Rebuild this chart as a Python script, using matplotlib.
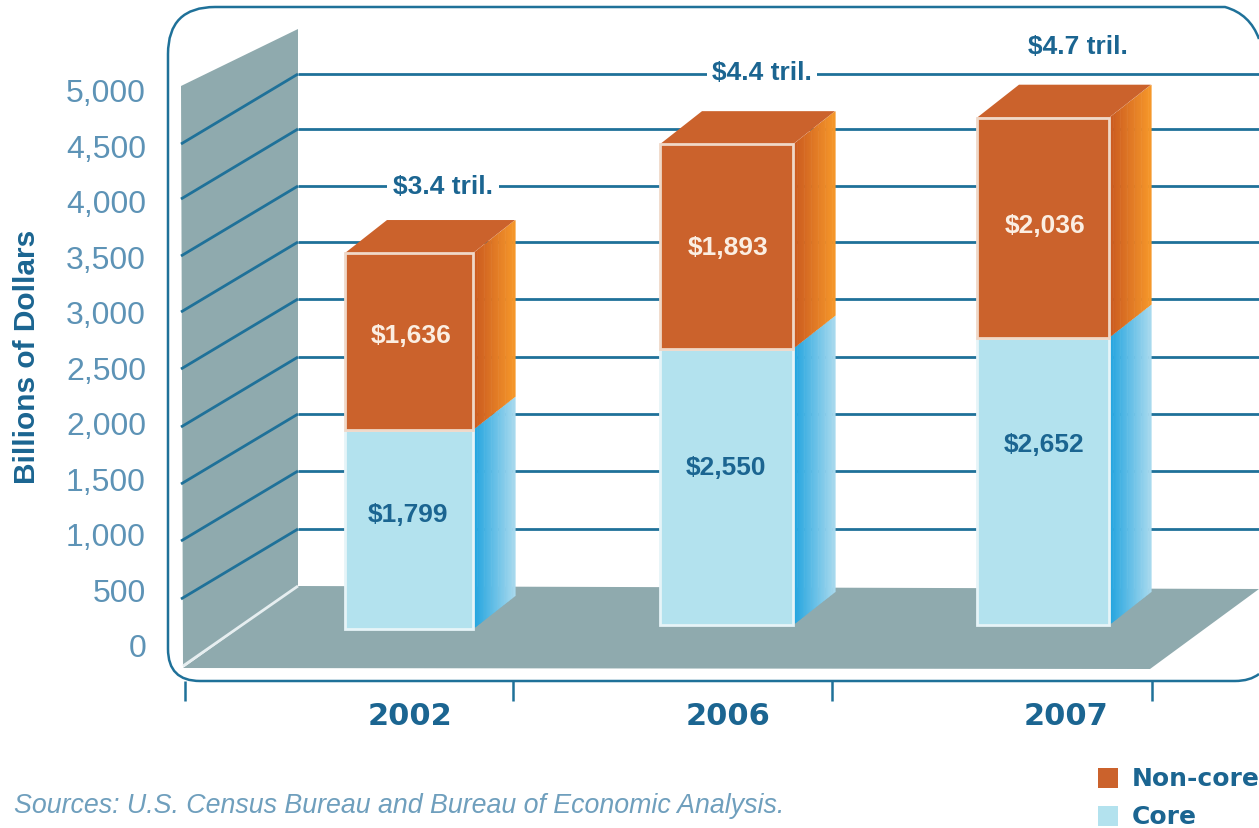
import numpy as np
import matplotlib
matplotlib.use("Agg")
import matplotlib.pyplot as plt
from matplotlib.patches import PathPatch, Polygon, Rectangle
from matplotlib.path import Path
from matplotlib.colors import to_rgb

years = ["2002", "2006", "2007"]
core = [1799, 2550, 2652]
noncore = [1636, 1893, 2036]
core_labels = ["$1,799", "$2,550", "$2,652"]
noncore_labels = ["$1,636", "$1,893", "$2,036"]
total_labels = ["$3.4 tril.", "$4.4 tril.", "$4.7 tril."]
axis_ticks = [0, 500, 1000, 1500, 2000, 2500, 3000, 3500, 4000, 4500, 5000]
axis_tick_labels = ["0", "500", "1,000", "1,500", "2,000", "2,500", "3,000", "3,500", "4,000", "4,500", "5,000"]
legend_names = ["Non-core", "Core"]

# layout (pixels)
W, H = 1259, 829
BASE, SCALE = 625, 0.108
bar_left = [345, 660, 977]
bar_w = [128, 133, 132]
base_drop = [5, 1, 1]
DX, DY = 42, 33
BLUE_TXT = "#1b6591"; TICK_TXT = "#5d93b6"; LINE = "#1f7199"
WALL = "#8faaae"; ORANGE = "#cb622c"; LBLUE = "#b3e2ee"; EDGE = "#f0d8c8"
SANS = "Liberation Sans"

def V(p):
    return (BASE - p) / SCALE

fig = plt.figure(figsize=(W / 100, H / 100), dpi=100)
ax = fig.add_axes([0, 0, 1, 1])
ax.set_xlim(0, W)
ax.set_ylim(V(H), V(0))
ax.axis("off")

def poly(pts, **kw):
    ax.add_patch(Polygon([(x, V(y)) for x, y in pts], closed=True, **kw))

def line(xs, ys, **kw):
    ax.plot(xs, [V(y) for y in ys], solid_capstyle="butt", **kw)

# outer rounded frame
verts = [(1259, 40), (1250, 15), (1225, 8), (1225, 8), (215, 8), (215, 8), (168, 8), (168, 55),
         (168, 55), (168, 650), (168, 650), (168, 682), (200, 682), (200, 682), (1235, 682),
         (1235, 682), (1250, 682), (1259, 675)]
codes = [Path.MOVETO, Path.CURVE3, Path.CURVE3, Path.LINETO, Path.LINETO, Path.LINETO,
         Path.CURVE3, Path.CURVE3, Path.LINETO, Path.LINETO, Path.LINETO, Path.CURVE3,
         Path.CURVE3, Path.LINETO, Path.LINETO, Path.LINETO, Path.CURVE3, Path.CURVE3]
ax.add_patch(PathPatch(Path([(x, V(y)) for x, y in verts], codes), fill=False, ec=LINE, lw=1.8))

# back wall, floor
poly([(181, 87), (298, 30), (298, 587), (183, 667)], fc=WALL, ec="none")
poly([(298, 587), (1259, 590), (1150, 670), (183, 669)], fc=WALL, ec="none")
line([298, 183], [587, 667], color="#e6eef0", lw=2)

# gridlines
back_y = [530, 472, 415, 358, 300, 243, 187, 130, 75]
for y in back_y:
    line([298, 1259], [y, y], color=LINE, lw=2, zorder=2)
    line([298, 181], [y, y + 70], color=LINE, lw=2, zorder=2)

# category separators
for x in [185, 513, 832, 1152]:
    line([x, x], [682, 702], color=LINE, lw=1.8)

def gradient_face(x0, y0_bot, y0_top, c0, c1, n=30):
    c0, c1 = np.array(to_rgb(c0)), np.array(to_rgb(c1))
    for i in range(n):
        t0, t1 = i / n, (i + 1) / n
        poly([(x0 + DX * t0, y0_bot - DY * t0), (x0 + DX * t1 + .6, y0_bot - DY * t1),
              (x0 + DX * t1 + .6, y0_top - DY * t1), (x0 + DX * t0, y0_top - DY * t0)],
             fc=c0 + (c1 - c0) * (t0 + t1) / 2, ec="none", zorder=4)

for i in range(3):
    x, w = bar_left[i], bar_w[i]
    pb = BASE + base_drop[i]
    pm = BASE - core[i] * SCALE
    pt = BASE - (core[i] + noncore[i]) * SCALE
    gradient_face(x + w, pb, pm, "#1fa3df", "#a9daee")
    gradient_face(x + w, pm, pt, "#c9581f", "#f6982a")
    poly([(x, pt), (x + w, pt), (x + w + DX, pt - DY), (x + DX, pt - DY)], fc=ORANGE, ec="none", zorder=4)
    ax.bar(x, core[i] + base_drop[i] / SCALE, width=w, bottom=-base_drop[i] / SCALE, align="edge",
           color=LBLUE, edgecolor="#e6f4f8", lw=2, zorder=5)
    ax.bar(x, noncore[i], width=w, bottom=core[i], align="edge",
           color=ORANGE, edgecolor=EDGE, lw=2, zorder=5)

core_label_pos = [(408, 515), (726, 468), (1044, 445)]
non_label_pos = [(411, 336), (728, 248), (1045, 226)]
for i in range(3):
    ax.text(core_label_pos[i][0], V(core_label_pos[i][1]), core_labels[i], color=BLUE_TXT, ha="center",
            va="center", family=SANS, weight="bold", fontsize=19, zorder=7)
    ax.text(non_label_pos[i][0], V(non_label_pos[i][1]), noncore_labels[i], color="#fbeee2", ha="center",
            va="center", family=SANS, weight="bold", fontsize=19, zorder=7)

total_pos = [(443, 187), (762, 73), (1078, 47)]
for (x, y), s in zip(total_pos, total_labels):
    ax.text(x, V(y), s, color=BLUE_TXT, ha="center", va="center", family=SANS, weight="bold", fontsize=19,
            zorder=7, bbox=dict(fc="white", ec="none", pad=4))

# value axis labels
yax = fig.add_axes([146 / W, 1 - 646 / H, 0.0008, (646 - 91) / H])
yax.patch.set_alpha(0)
yax.set_ylim(0, 5000)
yax.set_yticks(axis_ticks)
yax.set_yticklabels(axis_tick_labels, family=SANS)
yax.set_xticks([])
yax.tick_params(axis="y", length=0, pad=0, labelsize=23, labelcolor=TICK_TXT)
for sp in yax.spines.values():
    sp.set_visible(False)

ax.text(27, V(357), "Billions of Dollars", rotation=90, color=BLUE_TXT, ha="center", va="center",
        family=SANS, weight="bold", fontsize=21.5)

for s, x in zip(years, [410, 728, 1066]):
    ax.text(x, V(717), s, color=BLUE_TXT, ha="center", va="center", family="DejaVu Sans",
            weight="bold", fontsize=22)

ax.text(14, V(806), "Sources: U.S. Census Bureau and Bureau of Economic Analysis.", color="#6f9fbd",
        ha="left", va="center", family=SANS, style="italic", fontsize=19.3)

for name, c, y in zip(legend_names, [ORANGE, LBLUE], [779, 817]):
    ax.add_patch(Rectangle((1098, V(y + 10)), 20, 20 / SCALE, fc=c, ec="none"))
    ax.text(1132, V(y), name, color=BLUE_TXT, ha="left", va="center", family="DejaVu Sans",
            weight="bold", fontsize=18)

fig.savefig("out.png", dpi=100)
